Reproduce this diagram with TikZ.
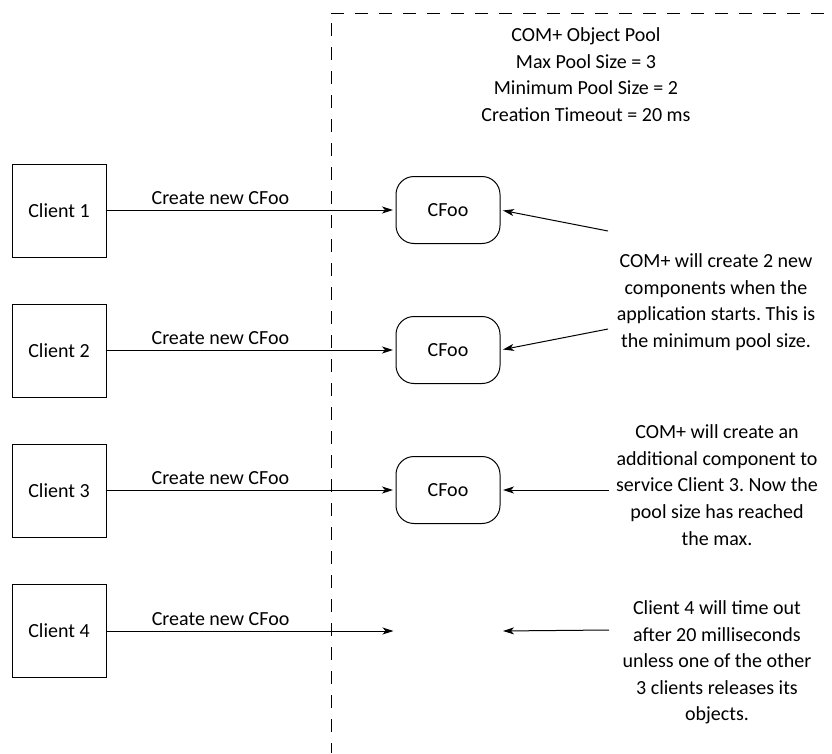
\documentclass[tikz,border=0pt]{standalone}
\usepackage{fontspec}
\setmainfont{Carlito}
\usetikzlibrary{arrows.meta}
\frenchspacing
\begin{document}
\begin{tikzpicture}[x=1pt,y=-1pt,
  txt/.style={font=\fontsize{20}{26.6}\selectfont},
  client/.style={txt, draw, line width=1pt, minimum width=94pt, minimum height=93pt, inner sep=0pt},
  obj/.style={txt, draw, line width=1pt, rounded corners=18pt, minimum width=104pt, minimum height=67pt, inner sep=0pt},
  note/.style={txt, align=center, inner sep=0pt},
  arr/.style={line width=1pt, -{Stealth[length=11pt,width=7pt,inset=3pt]}, shorten >=2.5pt},
  lbl/.style={txt, pos=0.394, yshift=12pt, inner sep=0pt},
  sep/.style={line width=1pt, dash pattern=on 13pt off 11pt}]
\useasboundingbox (0,0) rectangle (832,753);

% boundary of the pool
\coordinate (h0) at (331,13);
\coordinate (h1) at (832,13);
\coordinate (v0) at (331,23);
\coordinate (v1) at (331,753);
\draw[sep] (h0) -- (h1);
\draw[sep] (v0) -- (v1);

% header
\node[note] (head) at (586,74.5) {COM+ Object Pool\\Max Pool Size = 3\\Minimum Pool Size = 2\\Creation Timeout = 20 ms};

% clients
\node[client] (c1) at (59,210.5) {Client 1};
\node[client] (c2) at (59,350.5) {Client 2};
\node[client] (c3) at (59,490.5) {Client 3};
\node[client] (c4) at (59,630.5) {Client 4};

% objects
\node[obj] (f1) at (448,210) {CFoo};
\node[obj] (f2) at (448,350) {CFoo};
\node[obj] (f3) at (448,490) {CFoo};
\coordinate (f4w) at (396,631);
\coordinate (f4e) at (500.5,631);

% client requests
\draw[arr] (c1.east |- f1.west) -- node[lbl]{Create new CFoo} (f1.west);
\draw[arr] (c2.east |- f2.west) -- node[lbl]{Create new CFoo} (f2.west);
\draw[arr] (c3.east |- f3.west) -- node[lbl]{Create new CFoo} (f3.west);
\draw[arr] (c4.east |- f4w) -- node[lbl]{Create new CFoo} (f4w);

% notes
\node[note] (n1) at (716,302) {COM+ will create 2 new\\components when the\\application starts. This is\\the minimum pool size.};
\node[note] (n2) at (717,485) {COM+ will create an\\additional component to\\service Client 3. Now the\\pool size has reached\\the max.};
\node[note] (n3) at (717,662.5) {Client 4 will time out\\after 20 milliseconds\\unless one of the other\\3 clients releases its\\objects.};

\coordinate (n1a) at (608,231);
\coordinate (n1b) at (608,329);
\coordinate (n2a) at (609,490);
\coordinate (n3a) at (609,630);
\draw[arr] (n1a) -- (f1.east);
\draw[arr] (n1b) -- (f2.east);
\draw[arr] (n2a) -- (f3.east);
\draw[arr] (n3a) -- (f4e);
\end{tikzpicture}
\end{document}
